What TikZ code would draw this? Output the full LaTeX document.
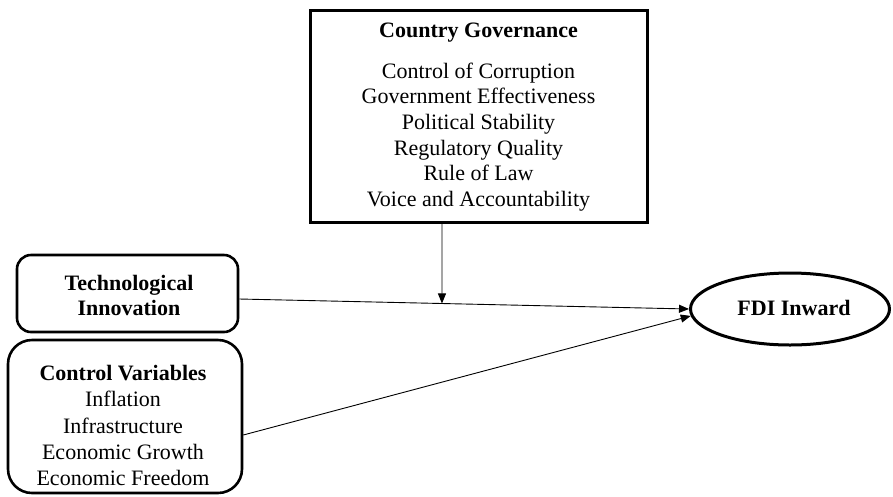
\documentclass[tikz,border=0pt]{standalone}
\usepackage{fontspec}
\setmainfont{Liberation Serif}
\usetikzlibrary{arrows.meta,calc,shapes.geometric}
\begin{document}
\begin{tikzpicture}[x=1pt,y=-1pt,
  txt/.style={font=\fontsize{22}{25.7}\selectfont,align=center,inner sep=0pt},
  cvtxt/.style={font=\fontsize{22}{26.3}\selectfont,align=center,inner sep=0pt},
  sqbox/.style={draw,line width=3pt,inner sep=0pt},
  rbox/.style={draw,line width=2.6pt,inner sep=0pt},
  conn/.style={line width=0.9pt,-{Triangle[length=10pt,width=8pt]}}
]
\useasboundingbox (0,0) rectangle (893,496);
% boxes
\node[sqbox,minimum width=337pt,minimum height=212pt] (cg) at (478.5,116) {};
\node[rbox,rounded corners=14pt,minimum width=221pt,minimum height=77pt] (tech) at (127.5,293.5) {};
\node[rbox,rounded corners=24pt,minimum width=234pt,minimum height=153pt] (cv) at (125,416.5) {};
\node[draw,ellipse,line width=3pt,inner sep=0pt,minimum width=199pt,minimum height=72pt] (fdi) at (790,309) {};
% texts
\node[txt,font=\fontsize{22}{25.7}\selectfont\bfseries] (cgt) at (478.5,33) {Country Governance};
\node[txt] (cgl) at (478.5,137) {Control of Corruption\\Government Effectiveness\\Political Stability\\Regulatory Quality\\Rule of Law\\Voice and Accountability};
\node[txt,font=\fontsize{22}{25}\selectfont\bfseries] (techt) at (129,295) {Technological\\Innovation};
\node[cvtxt] (cvt) at (123,425.5) {\textbf{Control Variables}\\Inflation\\Infrastructure\\Economic Growth\\Economic Freedom};
\node[txt,font=\fontsize{22}{25.7}\selectfont\bfseries] (fdit) at (794,308) {FDI Inward};
% connectors
\coordinate (ts) at ([yshift=-5.5pt]tech.east);
\coordinate (cgs) at ([xshift=-36.5pt]cg.south);
\coordinate (cgb) at ([yshift=-150pt]cgs);
\coordinate (fw) at (fdi.west);
\draw[conn] (ts) -- (fw);
\coordinate (m) at (intersection of ts--fw and cgs--cgb);
\draw[conn] (cgs) -- (m);
\coordinate (cve) at ([yshift=-18.5pt]cv.east);
\draw[conn] (cve) -- (fdi.184);
\end{tikzpicture}
\end{document}
